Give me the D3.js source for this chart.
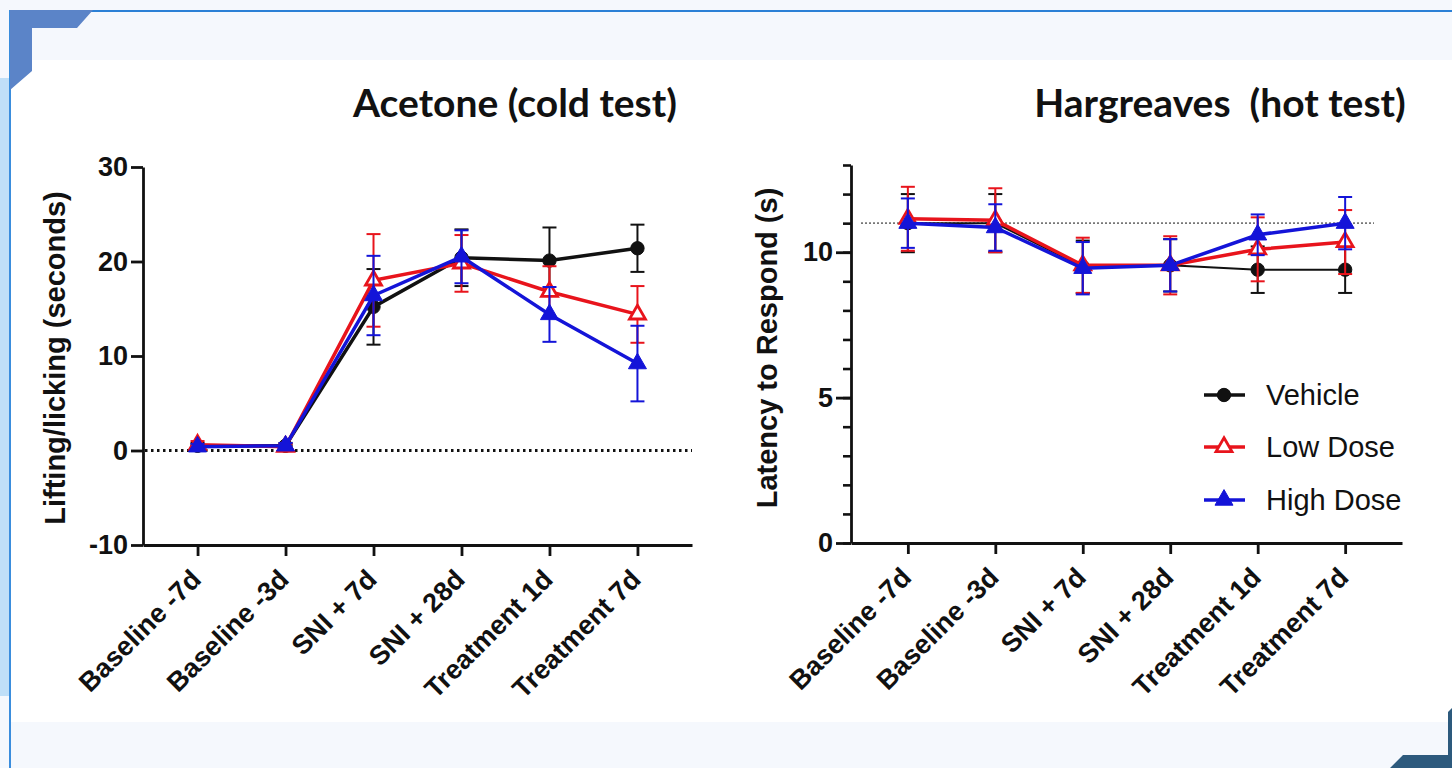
<!DOCTYPE html>
<html>
<head>
<meta charset="utf-8">
<script src="https://cdn.jsdelivr.net/npm/d3@7"></script>
<style>
  body { margin: 0; background: #f5f8fd; }
  svg { display: block; }
</style>
</head>
<body>
<div id="chart"></div>
<script>
// categories shared by both panels
var categories = ["Baseline -7d", "Baseline -3d", "SNI + 7d", "SNI + 28d", "Treatment 1d", "Treatment 7d"];
var seriesNames = ["Vehicle", "Low Dose", "High Dose"];

// Acetone (cold test) - mean and SEM
var acetoneVehicle = [0.5, 0.5, 15.2, 20.4, 20.1, 21.4];
var acetoneVehicleErr = [0.3, 0.3, 4.0, 3.0, 3.5, 2.5];
var acetoneLow = [0.6, 0.4, 18.0, 19.8, 16.8, 14.4];
var acetoneLowErr = [0.4, 0.3, 4.9, 3.0, 2.7, 3.0];
var acetoneHigh = [0.4, 0.5, 16.4, 20.5, 14.4, 9.2];
var acetoneHighErr = [0.3, 0.3, 4.2, 2.8, 2.9, 4.0];
var acetoneTicks = [-10, 0, 10, 20, 30];

// Hargreaves (hot test) - mean and SEM
var hargVehicle = [11.0, 11.0, 9.5, 9.55, 9.4, 9.4];
var hargVehicleErr = [1.0, 1.0, 0.9, 0.9, 0.8, 0.8];
var hargLow = [11.15, 11.1, 9.55, 9.55, 10.1, 10.35];
var hargLowErr = [1.1, 1.1, 0.95, 1.0, 1.1, 1.1];
var hargHigh = [11.0, 10.85, 9.45, 9.55, 10.6, 11.0];
var hargHighErr = [0.85, 0.8, 0.9, 0.9, 0.7, 0.9];
var hargTicks = [0, 5, 10];
var hargMinorTicks = d3.range(0, 14);
var hargReference = 11;

var colors = { "Vehicle": "#111111", "Low Dose": "#e8141c", "High Dose": "#1414d8" };

var W = 1452, H = 768;
var svg = d3.select("#chart").append("svg")
  .attr("width", W)
  .attr("height", H);

// page frame
svg.append("rect").attr("width", W).attr("height", H).attr("fill", "#f5f8fd");
svg.append("rect").attr("x", 0).attr("y", 78).attr("width", 10).attr("height", 618).attr("fill", "#bfdff8");
svg.append("rect").attr("x", 10).attr("y", 60).attr("width", W - 10).attr("height", 662).attr("fill", "#ffffff");
svg.append("line").attr("x1", 10).attr("x2", W).attr("y1", 11).attr("y2", 11)
  .attr("stroke", "#2b80d6").attr("stroke-width", 2);
svg.append("line").attr("x1", 10).attr("x2", 10).attr("y1", 10).attr("y2", H)
  .attr("stroke", "#3a8ddd").attr("stroke-width", 2);
svg.append("polygon")
  .attr("points", "10,10 93,10 77,28 32,28 32,71 10,90")
  .attr("fill", "#5b84c8");
svg.append("polygon")
  .attr("points", "1448,712 1452,708 1452,768 1390,768 1403,755 1448,755")
  .attr("fill", "#2d5a7d");

var tickFont = "'Liberation Sans', Arial, sans-serif";

function drawPanel(p) {
  var g = svg.append("g");

  var x = d3.scalePoint()
    .domain(categories)
    .range(p.xRange)
    .padding(p.xPad);

  var y = d3.scaleLinear()
    .domain(p.yDomain)
    .range(p.yRange);

  // reference line
  g.append("line")
    .attr("x1", p.refX[0]).attr("x2", p.refX[1])
    .attr("y1", y(p.ref)).attr("y2", y(p.ref))
    .attr("stroke", p.refColor)
    .attr("stroke-width", p.refWidth)
    .attr("stroke-dasharray", p.refDash);

  // x axis
  var xAxis = g.append("g")
    .attr("transform", "translate(0," + p.yRange[0] + ")")
    .call(d3.axisBottom(x).tickSize(11).tickSizeOuter(0).tickFormat(""));
  xAxis.select(".domain").attr("stroke", "#111").attr("stroke-width", 2.8);
  xAxis.selectAll(".tick line").attr("stroke", "#111").attr("stroke-width", 2.8);

  g.selectAll(".xlab")
    .data(categories)
    .enter()
    .append("text")
    .attr("transform", function (d) {
      return "translate(" + (x(d) + 5) + "," + (p.yRange[0] + 36) + ") rotate(-45)";
    })
    .attr("text-anchor", "end")
    .style("font-family", tickFont)
    .style("font-weight", "bold")
    .style("font-size", "27px")
    .attr("fill", "#111")
    .text(function (d) { return d; });

  // minor y ticks
  if (p.minorTicks) {
    g.append("g")
      .attr("transform", "translate(" + p.xRange[0] + ",0)")
      .call(d3.axisLeft(y).tickValues(p.minorTicks).tickSize(8).tickFormat(""))
      .call(function (a) {
        a.select(".domain").remove();
        a.selectAll(".tick line").attr("stroke", "#111").attr("stroke-width", 2.6);
      });
  }

  // y axis
  var yAxis = g.append("g")
    .attr("transform", "translate(" + p.xRange[0] + ",0)")
    .call(d3.axisLeft(y).tickValues(p.ticks).tickSize(p.tickLen).tickSizeOuter(0).tickPadding(3)
      .tickFormat(function (d) { return String(d); }));
  yAxis.select(".domain").attr("stroke", "#111").attr("stroke-width", 2.8);
  yAxis.selectAll(".tick line").attr("stroke", "#111").attr("stroke-width", 2.8);
  yAxis.selectAll(".tick text")
    .style("font-family", tickFont)
    .style("font-weight", "bold")
    .style("font-size", "27px")
    .attr("fill", "#111");

  // y label
  g.append("text")
    .attr("transform", "translate(" + p.yLabelPos[0] + "," + p.yLabelPos[1] + ") rotate(-90)")
    .attr("text-anchor", "middle")
    .attr("dominant-baseline", "central")
    .style("font-family", tickFont)
    .style("font-weight", "bold")
    .style("font-size", "29px")
    .attr("fill", "#111")
    .text(p.yLabel);

  // title
  g.append("text")
    .attr("x", p.titlePos[0])
    .attr("y", p.titlePos[1])
    .attr("text-anchor", "middle")
    .style("font-family", "Lato, 'Open Sans', sans-serif")
    .style("font-weight", "bold")
    .style("font-size", "39px")
    .style("white-space", "pre")
    .attr("fill", "#111")
    .text(p.title);

  var line = d3.line()
    .x(function (d, i) { return x(categories[i]); })
    .y(function (d) { return y(d); });

  p.series.forEach(function (s) {
    var c = colors[s.name];
    var sg = g.append("g");

    // error bars
    s.values.forEach(function (v, i) {
      var cx = x(categories[i]);
      var e = s.err[i];
      sg.append("line")
        .attr("x1", cx).attr("x2", cx)
        .attr("y1", y(v - e)).attr("y2", y(v + e))
        .attr("stroke", c).attr("stroke-width", 2);
      [v - e, v + e].forEach(function (t) {
        sg.append("line")
          .attr("x1", cx - 7).attr("x2", cx + 7)
          .attr("y1", y(t)).attr("y2", y(t))
          .attr("stroke", c).attr("stroke-width", 2);
      });
    });

    sg.append("path")
      .datum(s.values)
      .attr("fill", "none")
      .attr("stroke", c)
      .attr("stroke-width", s.lw)
      .attr("d", line);

    sg.selectAll(".pt")
      .data(s.values)
      .enter()
      .append("path")
      .attr("transform", function (d, i) { return "translate(" + x(categories[i]) + "," + y(d) + ")"; })
      .attr("d", marker(s.name))
      .attr("fill", s.name === "Low Dose" ? "#fff" : c)
      .attr("stroke", c)
      .attr("stroke-width", s.name === "Low Dose" ? 2.8 : 1);
  });
}

function marker(name) {
  if (name === "Vehicle") return d3.symbol().type(d3.symbolCircle).size(140)();
  return d3.symbol().type(d3.symbolTriangle).size(name === "Low Dose" ? 110 : 140)();
}

drawPanel({
  xRange: [143, 692], xPad: 0.62,
  yDomain: [-10, 30], yRange: [545, 167],
  ticks: acetoneTicks, tickLen: 12,
  ref: 0, refX: [145, 692], refColor: "#111", refWidth: 2.8, refDash: "2.5,3.5",
  yLabel: "Lifting/licking (seconds)", yLabelPos: [55, 358],
  title: "Acetone (cold test)", titlePos: [515, 117],
  series: [
    { name: "Vehicle", values: acetoneVehicle, err: acetoneVehicleErr, lw: 3.5 },
    { name: "Low Dose", values: acetoneLow, err: acetoneLowErr, lw: 3.5 },
    { name: "High Dose", values: acetoneHigh, err: acetoneHighErr, lw: 3.5 }
  ]
});

drawPanel({
  xRange: [851, 1402], xPad: 0.65,
  yDomain: [0, 13], yRange: [543, 165],
  ticks: hargTicks, tickLen: 15, minorTicks: hargMinorTicks,
  ref: hargReference, refX: [861, 1374], refColor: "#777", refWidth: 1.6, refDash: "2,2",
  yLabel: "Latency to Respond (s)", yLabelPos: [767, 348],
  title: "Hargreaves  (hot test)", titlePos: [1220, 117],
  series: [
    { name: "Vehicle", values: hargVehicle, err: hargVehicleErr, lw: 2 },
    { name: "Low Dose", values: hargLow, err: hargLowErr, lw: 3.5 },
    { name: "High Dose", values: hargHigh, err: hargHighErr, lw: 3.5 }
  ]
});

// legend
var legendY = [395, 447, 500];
var legend = svg.append("g");
seriesNames.forEach(function (n, i) {
  var c = colors[n];
  legend.append("line")
    .attr("x1", 1204).attr("x2", 1245)
    .attr("y1", legendY[i]).attr("y2", legendY[i])
    .attr("stroke", c).attr("stroke-width", 3.5);
  legend.append("path")
    .attr("transform", "translate(1224," + legendY[i] + ")")
    .attr("d", marker(n))
    .attr("fill", n === "Low Dose" ? "#fff" : c)
    .attr("stroke", c)
    .attr("stroke-width", n === "Low Dose" ? 2.8 : 1);
  legend.append("text")
    .attr("x", 1266)
    .attr("y", legendY[i])
    .attr("dominant-baseline", "central")
    .style("font-family", tickFont)
    .style("font-size", "29px")
    .attr("fill", "#111")
    .text(n);
});
</script>
</body>
</html>
